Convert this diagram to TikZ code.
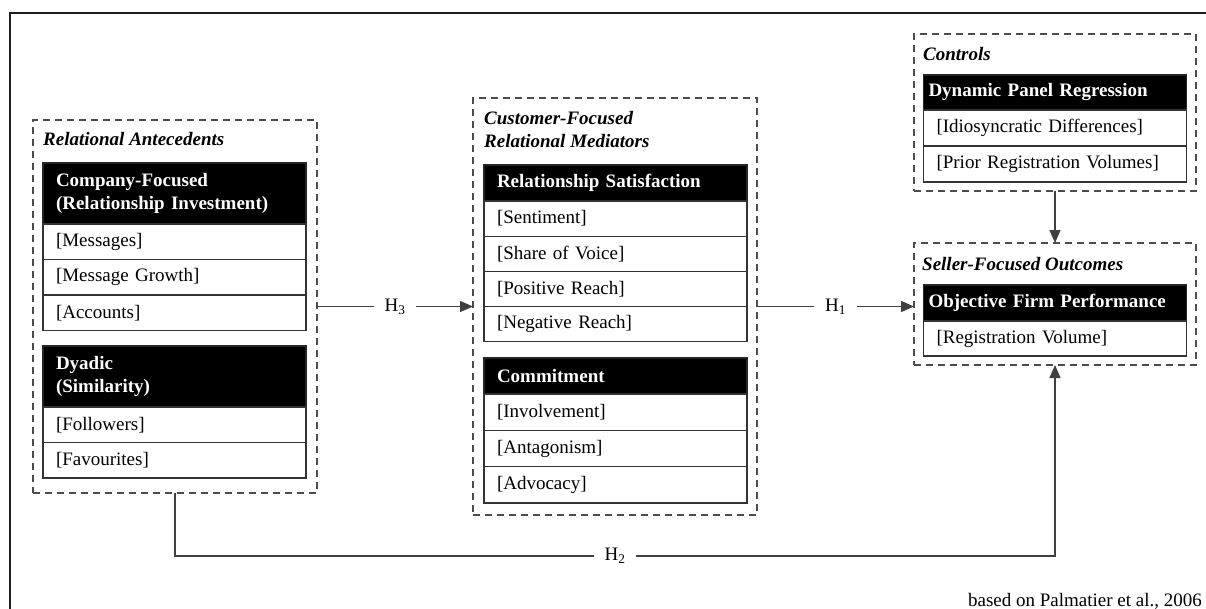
\documentclass[tikz,border=0pt]{standalone}
\usepackage{fontspec}
\setmainfont{Liberation Serif}
\usetikzlibrary{arrows.meta}
\tikzset{
  frame/.style={draw=black!88, line width=2.2pt},
  grp/.style={draw=black!70, dash pattern=on 7pt off 5pt, line width=1.3pt, anchor=north west, inner sep=0pt, outer sep=0pt},
  ttl/.style={font=\fontsize{19}{23}\selectfont\bfseries\itshape, anchor=base west, inner sep=0pt, align=left},
  hdr/.style={draw=black!85, fill=black, text=white, font=\fontsize{19}{23}\selectfont\bfseries, line width=1.2pt, anchor=north west, inner xsep=13pt, inner ysep=0pt, text width=237pt, align=left, outer sep=0pt},
  row/.style={draw=black!80, fill=white, font=\fontsize{19}{23}\selectfont, line width=1.2pt, anchor=north west, inner xsep=13pt, inner ysep=0pt, text width=237pt, align=left, outer sep=0pt, minimum height=35.5pt},
  arr/.style={draw=black!75, line width=1.3pt, -{Triangle[length=13pt,width=11pt]}},
  lbl/.style={fill=white, font=\fontsize{19}{23}\selectfont, inner xsep=11pt, inner ysep=2pt}
}
\begin{document}
\begin{tikzpicture}[x=1pt, y=-1pt]
		%%%%% START %%%%%
		
		\useasboundingbox (0,0) rectangle (1206,608);
		\draw[frame] (1212,13) -- (10,13) -- (10,614);
		
		% dashed groups
		\node[grp, minimum width=284, minimum height=373] (ante) at (33,120) {};
		\node[grp, minimum width=284, minimum height=417] (medi) at (473,98) {};
		\node[grp, minimum width=282, minimum height=157] (ctrl) at (914,34) {};
		\node[grp, minimum width=282, minimum height=122] (sell) at (914,243) {};
		
		\node[ttl] (anteT) at (43,145) {Relational Antecedents};
		\node[ttl, anchor=north west] (mediT) at (484,111) {Customer-Focused\\Relational Mediators};
		\node[ttl] (ctrlT) at (923,60) {Controls};
		\node[ttl] (sellT) at (922,270) {Seller-Focused Outcomes};
		
		% antecedents
		\node[hdr, minimum height=61] (cfH) at (43,163) {Company-Focused\\(Relationship Investment)};
		\node[row] (cf1) at (cfH.south west) {[Messages]};
		\node[row] (cf2) at (cf1.south west) {[Message Growth]};
		\node[row] (cf3) at (cf2.south west) {[Accounts]};
		
		\node[hdr, minimum height=61] (dyH) at (43,346) {Dyadic\\(Similarity)};
		\node[row] (dy1) at (dyH.south west) {[Followers]};
		\node[row] (dy2) at (dy1.south west) {[Favourites]};
		
		% mediators
		\node[hdr, minimum height=36] (rsH) at (484,165) {Relationship Satisfaction};
		\node[row, minimum height=35.2] (rs1) at (rsH.south west) {[Sentiment]};
		\node[row, minimum height=35.2] (rs2) at (rs1.south west) {[Share of Voice]};
		\node[row, minimum height=35.2] (rs3) at (rs2.south west) {[Positive Reach]};
		\node[row, minimum height=35.2] (rs4) at (rs3.south west) {[Negative Reach]};
		
		\node[hdr, minimum height=36] (cmH) at (484,358) {Commitment};
		\node[row, minimum height=36.3] (cm1) at (cmH.south west) {[Involvement]};
		\node[row, minimum height=36.3] (cm2) at (cm1.south west) {[Antagonism]};
		\node[row, minimum height=36.3] (cm3) at (cm2.south west) {[Advocacy]};
		
		% controls
		\node[hdr, minimum height=35, inner xsep=5pt, text width=253pt] (dpH) at (923.5,75) {Dynamic Panel Regression};
		\node[row, minimum height=36] (dp1) at (dpH.south west) {[Idiosyncratic Differences]};
		\node[row, minimum height=36] (dp2) at (dp1.south west) {[Prior Registration Volumes]};
		
		% outcomes
		\node[hdr, minimum height=36, inner xsep=5pt, text width=253pt] (ofH) at (923.5,285) {Objective Firm Performance};
		\node[row, minimum height=35] (of1) at (ofH.south west) {[Registration Volume]};
		
		% hypotheses
		\draw[arr] (ante.east) -- node[lbl] (h3) {H\textsubscript{3}} (medi.west);
		\draw[arr] (medi.east) -- node[lbl] (h1) {H\textsubscript{1}} (medi.east -| sell.west);
		\draw[arr] (ctrl.south) -- (sell.north);
		\draw[arr] (ante.south) -- ++(0,63) -| node[lbl, pos=0.25] (h2) {H\textsubscript{2}} (sell.south);
		
		\node[font=\fontsize{19}{23}\selectfont, anchor=base east, inner sep=0pt] (src) at (1202,606) {based on Palmatier et al., 2006};
		
		%%%%% END %%%%%
\end{tikzpicture}
\end{document}
